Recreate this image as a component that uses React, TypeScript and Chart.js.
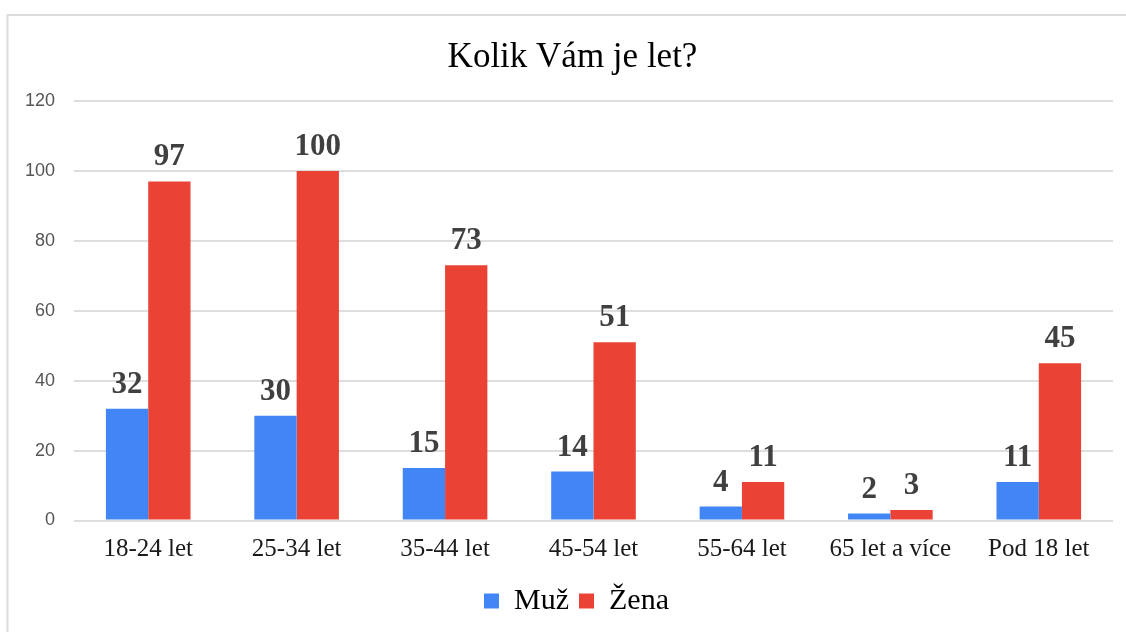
import React, { useEffect, useRef } from "react";
import { Chart, registerables } from "chart.js";

Chart.register(...registerables);

const categories = ["18-24 let", "25-34 let", "35-44 let", "45-54 let", "55-64 let", "65 let a více", "Pod 18 let"];
const muzValues = [32, 30, 15, 14, 4, 2, 11];
const zenaValues = [97, 100, 73, 51, 11, 3, 45];
const seriesNames = ["Muž", "Žena"];
const titleText = "Kolik Vám je let?";
const yMin = 0;
const yMax = 120;
const yStep = 20;

const SERIF = "'Liberation Serif', 'Times New Roman', serif";
const SANS = "'Liberation Sans', Arial, sans-serif";

const framePlugin = {
  id: "frame",
  afterLayout(chart: any) {
    // shift title and legend to the right, like the reference
    if (chart.titleBlock) {
      chart.titleBlock.left += 16;
      chart.titleBlock.right += 16;
    }
    if (chart.legend) {
      chart.legend.left += 20;
      chart.legend.right += 20;
    }
  },
  beforeDraw(chart: any) {
    const ctx = chart.ctx;
    ctx.save();
    ctx.fillStyle = "#ffffff";
    ctx.fillRect(0, 0, chart.width, chart.height);
    ctx.strokeStyle = "#dcdcdc";
    ctx.lineWidth = 2;
    ctx.beginPath();
    ctx.moveTo(7.5, chart.height);
    ctx.lineTo(7.5, 15);
    ctx.lineTo(chart.width, 15);
    ctx.stroke();
    ctx.restore();
  },
};

const labelPlugin = {
  id: "valueLabels",
  afterDatasetsDraw(chart: any) {
    const ctx = chart.ctx;
    ctx.save();
    ctx.font = `bold 31px ${SERIF}`;
    ctx.fillStyle = "#404040";
    ctx.textAlign = "center";
    ctx.textBaseline = "alphabetic";
    chart.data.datasets.forEach((ds: any, i: number) => {
      const meta = chart.getDatasetMeta(i);
      meta.data.forEach((bar: any, j: number) => {
        ctx.fillText(String(ds.data[j]), bar.x, bar.y - 16);
      });
    });
    ctx.restore();
  },
};

export default function App() {
  const ref = useRef<HTMLCanvasElement>(null);
  useEffect(() => {
    document.body.style.margin = "0";
    const chart = new Chart(ref.current!, {
      type: "bar",
      data: {
        labels: categories,
        datasets: [
          { label: seriesNames[0], data: muzValues, backgroundColor: "#4285F4", categoryPercentage: 0.57, barPercentage: 1 },
          { label: seriesNames[1], data: zenaValues, backgroundColor: "#EA4335", categoryPercentage: 0.57, barPercentage: 1 },
        ],
      },
      options: {
        responsive: false,
        animation: false,
        layout: { padding: { left: 0, right: 13, top: 14, bottom: 6 } },
        plugins: {
          title: {
            display: true,
            text: titleText,
            color: "#000",
            font: { family: SERIF, size: 35, weight: "normal" },
            padding: { top: 23, bottom: 22 },
          },
          legend: {
            position: "bottom",
            labels: {
              color: "#000",
              font: { family: SERIF, size: 30 },
              boxWidth: 15,
              boxHeight: 15,
              padding: 10,
            },
          },
          tooltip: { enabled: false },
        },
        scales: {
          x: {
            grid: { display: false, drawTicks: false },
            border: { display: false },
            ticks: { color: "#1a1a1a", font: { family: SERIF, size: 25 }, padding: 14, maxRotation: 0 },
            afterFit(scale: any) {
              scale.height = 55.5;
            },
          },
          y: {
            min: yMin,
            max: yMax,
            grid: { color: "#dedede", lineWidth: 2, drawTicks: false },
            border: { display: false },
            ticks: { stepSize: yStep, color: "#555", font: { family: SANS, size: 18 }, padding: 19 },
            afterFit(scale: any) {
              scale.width = 74;
            },
          },
        },
      },
      plugins: [framePlugin, labelPlugin],
    } as any);
    return () => chart.destroy();
  }, []);
  return (
    <div style={{ width: 1126, height: 632 }}>
      <canvas ref={ref} width={1126} height={632} />
    </div>
  );
}
